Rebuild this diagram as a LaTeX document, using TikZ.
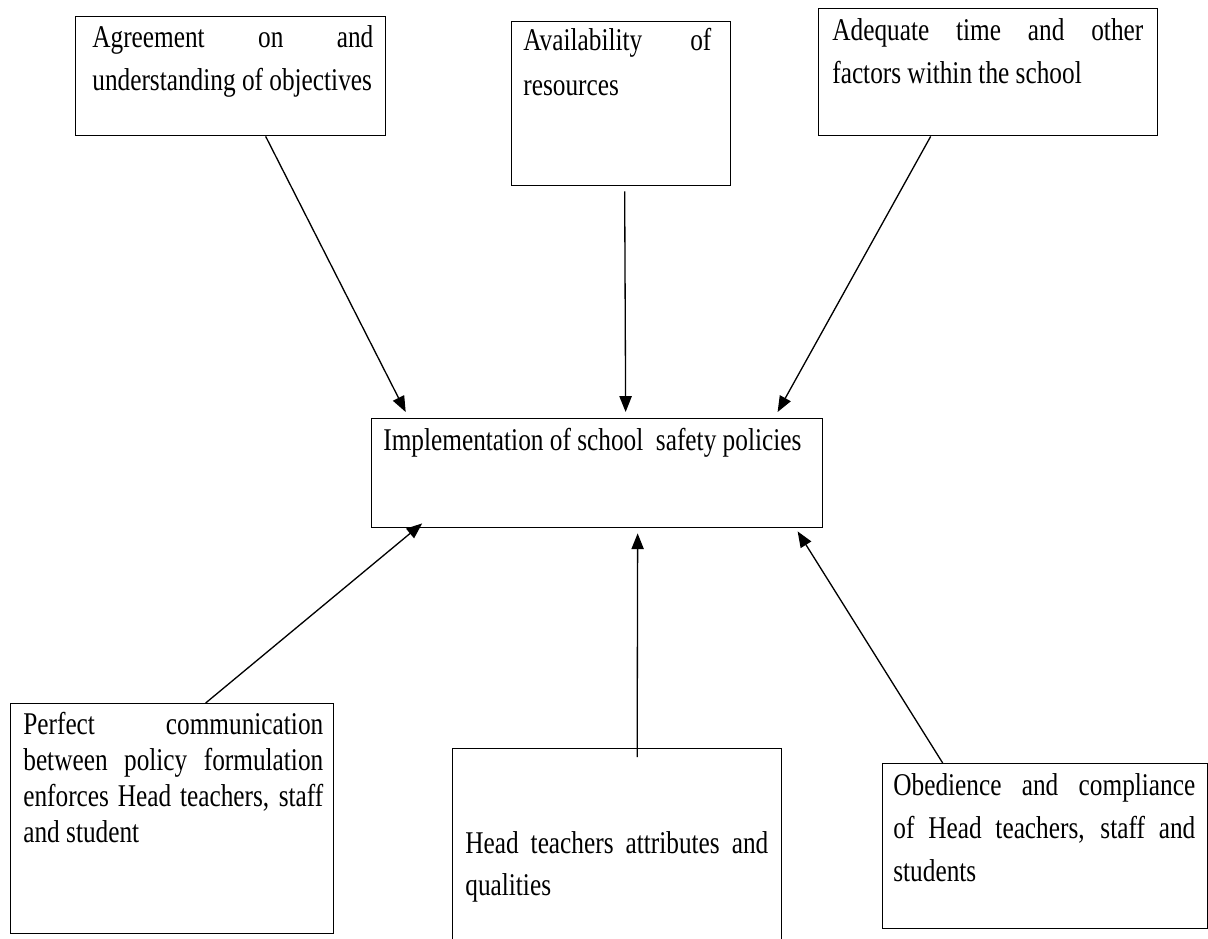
\documentclass[tikz,border=0pt]{standalone}
\usepackage{fontspec}
\setmainfont{Liberation Serif}[FakeStretch=0.8]
\usetikzlibrary{arrows.meta}
\begin{document}
\begin{tikzpicture}[x=0.02cm, y=-0.02cm,
  box/.style={draw=black, line width=0.8pt, anchor=north west, inner sep=0pt},
  boxtext/.style={anchor=north west, inner sep=0pt, align=justify, font={\fontsize{18}{24.5}\selectfont\tolerance=9999 \hyphenpenalty=10000}},
  arrowline/.style={line width=0.75pt, -{Triangle[length=9pt, width=7pt]}}]
\useasboundingbox (0,0) rectangle (1208,938);
\clip (0,0) rectangle (1208,938);
\node (agree) at (75,16) [box, minimum width=6.2cm, minimum height=2.38cm] {};
\node (agree-text) at ([shift={(17,9)}]agree.north west) [boxtext, text width=5.62cm] {Agreement on and\linebreak understanding of objectives};
\node (avail) at (511,21) [box, minimum width=4.38cm, minimum height=3.28cm] {};
\node (avail-text) at ([shift={(12,7)}]avail.north west) [boxtext, text width=3.76cm, font={\fontsize{18}{25.6}\selectfont}] {Availability of\linebreak resources};
\node (adeq) at (818,8) [box, minimum width=6.78cm, minimum height=2.54cm] {};
\node (adeq-text) at ([shift={(14,10)}]adeq.north west) [boxtext, text width=6.22cm] {Adequate time and other\linebreak factors within the school};
\node (impl) at (371,418) [box, minimum width=9.02cm, minimum height=2.18cm] {};
\node (impl-text) at ([shift={(12,10)}]impl.north west) [boxtext, align=left] {Implementation of school\ \ safety policies};
\node (comm) at (10,703) [box, minimum width=6.46cm, minimum height=4.6cm] {};
\node (comm-text) at ([shift={(13,9)}]comm.north west) [boxtext, text width=6.0cm, font={\fontsize{18}{20.5}\selectfont}] {Perfect communication\linebreak between policy formulation\linebreak enforces Head teachers, staff\linebreak and student};
\node (head) at (452,748) [box, minimum width=6.58cm, minimum height=4.4cm] {};
\node (head-text) at ([shift={(13,83)}]head.north west) [boxtext, text width=6.06cm, font={\fontsize{18}{23.9}\selectfont}] {Head teachers attributes and\linebreak qualities};
\node (oblig) at (882,763) [box, minimum width=6.5cm, minimum height=3.3cm] {};
\node (oblig-text) at ([shift={(11,10)}]oblig.north west) [boxtext, text width=6.04cm] {Obedience and compliance\linebreak of Head teachers, staff and\linebreak students};
\draw [arrowline] ([xshift=0.7cm]agree.south) -- ([xshift=-3.83cm, yshift=0.12cm]impl.north);
\draw [arrowline] ([xshift=0.07cm, yshift=-0.1cm]avail.south) -- ([xshift=0.57cm, yshift=0.12cm]impl.north);
\draw [arrowline] ([xshift=-1.15cm]adeq.south) -- ([xshift=3.61cm, yshift=0.12cm]impl.north);
\draw [arrowline] ([xshift=0.67cm]comm.north) -- ([xshift=-3.5cm, yshift=0.1cm]impl.south);
\draw [arrowline] ([xshift=0.4cm, yshift=-0.18cm]head.north) -- ([xshift=0.81cm, yshift=-0.1cm]impl.south);
\draw [arrowline] ([xshift=-2.05cm]oblig.north) -- ([xshift=4.01cm, yshift=-0.06cm]impl.south);
\end{tikzpicture}
\end{document}
